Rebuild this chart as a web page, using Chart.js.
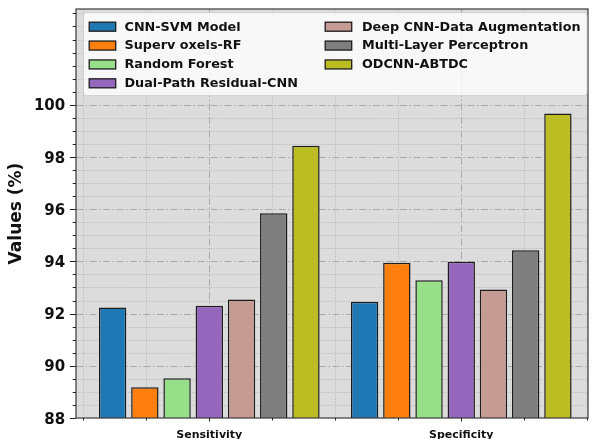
<!DOCTYPE html>
<html>
<head>
<meta charset="utf-8">
<script src="https://cdn.jsdelivr.net/npm/chart.js@4.4.1/dist/chart.umd.min.js"></script>
<style>
  html, body { margin: 0; padding: 0; background: #ffffff; }
  #wrap { width: 592px; height: 439px; position: relative; }
</style>
</head>
<body>
<div id="wrap"><canvas id="c"></canvas></div>
<script>
// Metric groups on the x axis
const categories = ['Sensitivity', 'Specificity'];

// Model names (legend order)
const models = [
  'CNN-SVM Model',
  'Superv oxels-RF',
  'Random Forest',
  'Dual-Path Residual-CNN',
  'Deep CNN-Data Augmentation',
  'Multi-Layer Perceptron',
  'ODCNN-ABTDC'
];

// Scores (%) per model: [Sensitivity, Specificity]
const cnnSvm        = [92.23, 92.45];
const supervoxelsRf = [89.18, 93.95];
const randomForest  = [89.52, 93.28];
const dualPathRes   = [92.30, 93.99];
const deepCnnAug    = [92.54, 92.92];
const multiLayerP   = [95.84, 94.43];
const odcnnAbtdc    = [98.43, 99.67];

const seriesValues = [cnnSvm, supervoxelsRf, randomForest, dualPathRes, deepCnnAug, multiLayerP, odcnnAbtdc];

// Labelled y ticks
const yTickLabels = [88, 90, 92, 94, 96, 98, 100];

const barColors = ['#1f77b4', '#ff7f0e', '#98df8a', '#9467bd', '#c49c94', '#7f7f7f', '#bcbd22'];

const FONT = 'DejaVu Sans';

// Shaded axes background, major/minor grid, spines, tick marks, y labels and an inset legend
const framePlugin = {
  id: 'frame',
  beforeDatasetsDraw(chart) {
    const { ctx, chartArea: a, scales: { x, y } } = chart;
    ctx.save();
    ctx.fillStyle = '#dcdcdc';
    ctx.fillRect(a.left, a.top, a.right - a.left, a.bottom - a.top);

    ctx.beginPath();
    ctx.rect(a.left, a.top, a.right - a.left, a.bottom - a.top);
    ctx.clip();

    // minor grid (dotted)
    ctx.lineWidth = 0.8;
    ctx.strokeStyle = '#a9a9a9';
    ctx.setLineDash([1, 1.6]);
    for (let k = 1; 88 + k * 0.5 < y.max; k++) {
      const v = 88 + k * 0.5;
      if (yTickLabels.includes(v)) continue;
      const py = Math.round(y.getPixelForValue(v)) + 0.5;
      ctx.beginPath(); ctx.moveTo(a.left, py); ctx.lineTo(a.right, py); ctx.stroke();
    }
    for (let k = -2; k <= (categories.length - 1) * 4 + 2; k++) {
      if (k % 4 === 0) continue;
      const px = Math.round(x.getPixelForValue(k / 4)) + 0.5;
      ctx.beginPath(); ctx.moveTo(px, a.top); ctx.lineTo(px, a.bottom); ctx.stroke();
    }

    // major grid (dash-dot)
    ctx.strokeStyle = '#a3a3a3';
    ctx.lineWidth = 0.9;
    ctx.setLineDash([7, 2.5, 1.5, 2.5]);
    yTickLabels.forEach(v => {
      if (v === y.min) return;
      const py = Math.round(y.getPixelForValue(v)) + 0.5;
      ctx.beginPath(); ctx.moveTo(a.left, py); ctx.lineTo(a.right, py); ctx.stroke();
    });
    categories.forEach((_, i) => {
      const px = Math.round(x.getPixelForValue(i)) + 0.5;
      ctx.beginPath(); ctx.moveTo(px, a.top); ctx.lineTo(px, a.bottom); ctx.stroke();
    });
    ctx.restore();
  },
  afterDatasetsDraw(chart) {
    const { ctx, chartArea: a, scales: { x, y } } = chart;
    ctx.save();

    // spines
    ctx.strokeStyle = '#3a3a3a';
    ctx.lineWidth = 1.2;
    ctx.strokeRect(a.left, a.top, a.right - a.left, a.bottom - a.top);

    // tick marks
    ctx.strokeStyle = '#222';
    ctx.lineWidth = 1;
    for (let k = 0; 88 + k * 0.5 < y.max; k++) {
      const v = 88 + k * 0.5;
      const len = yTickLabels.includes(v) ? 6 : 3.3;
      const py = Math.round(y.getPixelForValue(v)) + 0.5;
      ctx.beginPath(); ctx.moveTo(a.left - len, py); ctx.lineTo(a.left, py); ctx.stroke();
    }
    for (let k = -2; k <= (categories.length - 1) * 4 + 2; k++) {
      const len = k % 4 === 0 ? 3.5 : 2.5;
      const px = Math.round(x.getPixelForValue(k / 4)) + 0.5;
      ctx.beginPath(); ctx.moveTo(px, a.bottom); ctx.lineTo(px, a.bottom + len); ctx.stroke();
    }

    // y tick labels
    ctx.fillStyle = '#111';
    ctx.font = `bold 15px "${FONT}"`;
    ctx.textAlign = 'right';
    ctx.textBaseline = 'alphabetic';
    yTickLabels.forEach(v => {
      ctx.fillText(String(v), a.left - 10.8, y.getPixelForValue(v) + 5.6);
    });

    // legend
    const lx = a.left + 7.5, ly = a.top + 3.5, lw = a.right - a.left - 8.5, lh = 83;
    ctx.beginPath();
    ctx.roundRect(lx, ly, lw, lh, 3);
    ctx.fillStyle = 'rgba(255,255,255,0.8)';
    ctx.fill();
    ctx.strokeStyle = 'rgba(204,204,204,0.8)';
    ctx.lineWidth = 1;
    ctx.stroke();

    const rows = 4;
    const swatchX = [lx + 5.7, lx + 241.7];
    const textX = [lx + 41, lx + 278.4];
    ctx.font = `bold 12.8px "${FONT}"`;
    ctx.textBaseline = 'alphabetic';
    ctx.textAlign = 'left';
    chart.data.datasets.forEach((ds, k) => {
      const col = Math.floor(k / rows), row = k % rows;
      const base = ly + 18.1 + row * 18.87;
      ctx.fillStyle = ds.backgroundColor;
      ctx.fillRect(swatchX[col], base - 8.4, 26.5, 9);
      ctx.strokeStyle = '#1c1c1c';
      ctx.lineWidth = 1.3;
      ctx.strokeRect(swatchX[col], base - 8.4, 26.5, 9);
      ctx.fillStyle = '#111';
      ctx.fillText(ds.label, textX[col], base);
    });
    ctx.restore();
  }
};

new Chart(document.getElementById('c'), {
  type: 'bar',
  data: {
    datasets: models.map((name, k) => ({
      label: name,
      data: seriesValues[k].map((v, i) => ({ x: i, y: v })),
      backgroundColor: barColors[k],
      borderColor: '#1c1c1c',
      borderWidth: 1.5,
      borderSkipped: false,
      categoryPercentage: 0.895,
      barPercentage: 0.85
    }))
  },
  options: {
    responsive: true,
    maintainAspectRatio: false,
    animation: false,
    devicePixelRatio: 1,
    layout: { padding: { left: 0, right: 4, top: 9, bottom: 0 } },
    plugins: { legend: { display: false }, tooltip: { enabled: false } },
    scales: {
      x: {
        type: 'linear',
        offset: false,
        bounds: 'data',
        min: -0.529,
        max: 1.503,
        grid: { display: false, offset: false },
        border: { display: false },
        afterBuildTicks: s => { s.ticks = categories.map((_, i) => ({ value: i })); },
        afterFit: s => { s.height = 21; s.paddingLeft = 0; s.paddingRight = 0; },
        ticks: {
          callback: v => categories[v] ?? '',
          autoSkip: false,
          maxRotation: 0,
          padding: 3,
          color: '#111',
          font: { family: FONT, weight: 'bold', size: 11 }
        }
      },
      y: {
        min: 88,
        max: 103.67,
        grid: { display: false },
        border: { display: false },
        afterBuildTicks: s => { s.ticks = yTickLabels.map(v => ({ value: v })); },
        afterFit: s => { s.width = 76; s.paddingTop = 0; s.paddingBottom = 0; },
        ticks: { display: false },
        title: {
          display: true,
          text: 'Values (%)',
          color: '#111',
          padding: { top: 6.5, bottom: 0 },
          font: { family: FONT, weight: 'bold', size: 17 }
        }
      }
    }
  },
  plugins: [framePlugin]
});
</script>
</body>
</html>
